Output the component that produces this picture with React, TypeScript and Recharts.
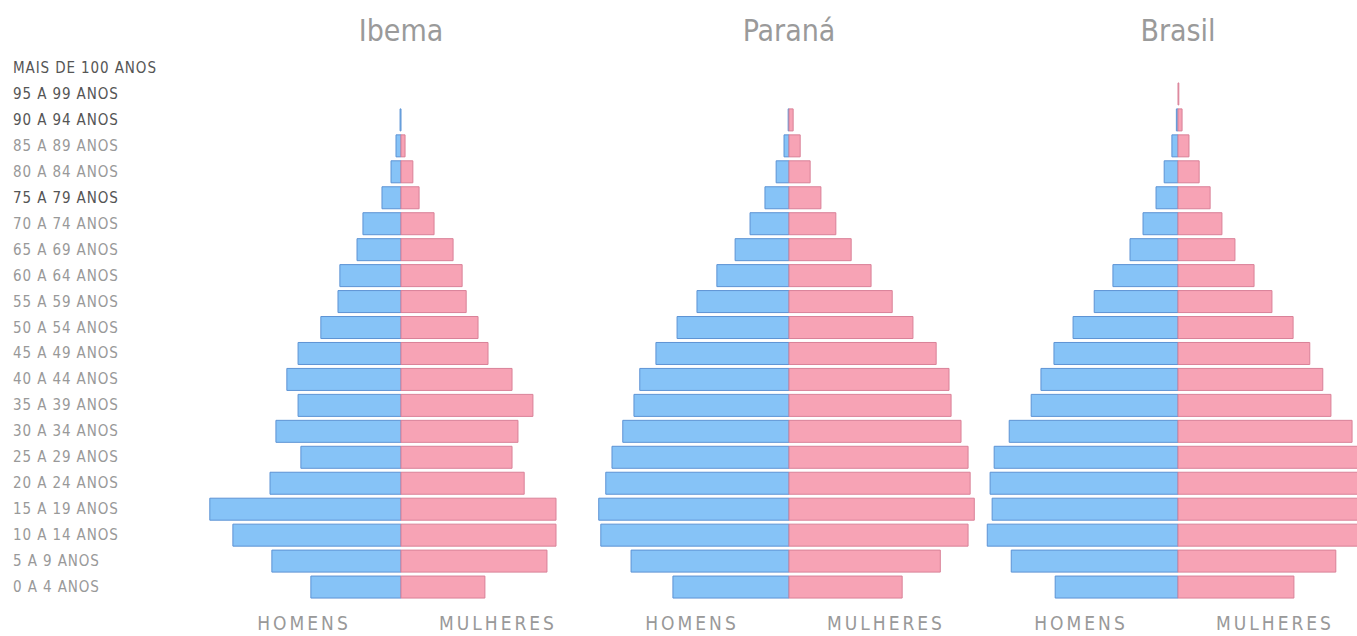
import React from 'react';
import { BarChart, Bar, XAxis, YAxis } from 'recharts';

const ageGroups = [
  'MAIS DE 100 ANOS', '95 A 99 ANOS', '90 A 94 ANOS', '85 A 89 ANOS', '80 A 84 ANOS',
  '75 A 79 ANOS', '70 A 74 ANOS', '65 A 69 ANOS', '60 A 64 ANOS', '55 A 59 ANOS',
  '50 A 54 ANOS', '45 A 49 ANOS', '40 A 44 ANOS', '35 A 39 ANOS', '30 A 34 ANOS',
  '25 A 29 ANOS', '20 A 24 ANOS', '15 A 19 ANOS', '10 A 14 ANOS', '5 A 9 ANOS', '0 A 4 ANOS',
];

// % of population
const ibemaHomens = [0, 0, 0.03, 0.16, 0.32, 0.61, 1.22, 1.41, 1.96, 2.02, 2.57, 3.30, 3.66, 3.30, 4.01, 3.21, 4.20, 6.13, 5.39, 4.14, 2.89];
const ibemaMulheres = [0, 0, 0, 0.13, 0.38, 0.58, 1.06, 1.67, 1.96, 2.09, 2.47, 2.79, 3.56, 4.23, 3.75, 3.56, 3.95, 4.97, 4.97, 4.68, 2.69];

const paranaHomens = [0, 0, 0.02, 0.12, 0.31, 0.58, 0.94, 1.30, 1.74, 2.22, 2.70, 3.21, 3.60, 3.74, 4.01, 4.27, 4.42, 4.59, 4.54, 3.81, 2.80];
const paranaMulheres = [0, 0, 0.10, 0.27, 0.51, 0.77, 1.13, 1.50, 1.98, 2.49, 2.99, 3.55, 3.86, 3.91, 4.15, 4.32, 4.37, 4.47, 4.32, 3.65, 2.73];

const brasilHomens = [0, 0, 0.04, 0.15, 0.34, 0.54, 0.86, 1.18, 1.60, 2.06, 2.58, 3.05, 3.37, 3.61, 4.15, 4.52, 4.62, 4.57, 4.69, 4.10, 3.02];
const brasilMulheres = [0, 0.02, 0.10, 0.27, 0.52, 0.79, 1.08, 1.40, 1.87, 2.31, 2.83, 3.24, 3.56, 3.76, 4.28, 4.47, 4.57, 4.52, 4.57, 3.88, 2.85];

const titles = ['Ibema', 'Paraná', 'Brasil'];
const sexLabels = ['HOMENS', 'MULHERES'];

const buildRows = (h: number[], m: number[]) =>
  ageGroups.map((age, i) => ({ age, homens: -h[i], mulheres: m[i] }));

const BLUE = '#86c3f7';
const BLUE_STROKE = '#5d93d4';
const PINK = '#f7a3b5';
const PINK_STROKE = '#d98198';

const LABEL_FONT = '"DejaVu Sans Condensed", "DejaVu Sans", sans-serif';

const AgeTick = (props: any) => {
  const { y, payload, index } = props;
  const dark = index <= 2 || index === 5;
  return (
    <text
      x={13}
      y={y}
      dy={5}
      textAnchor="start"
      fontFamily={LABEL_FONT}
      fontSize={15}
      letterSpacing={0.9}
      fill={dark ? '#555' : '#999'}
    >
      {payload.value}
    </text>
  );
};

const PLOT_TOP = 55;
const PLOT_BOTTOM = 36;
const HEIGHT = 636;

type PyramidProps = {
  rows: any[];
  half: number;
  center: number;
  title: string;
  showAxis?: boolean;
};

const Pyramid = ({ rows, half, center, title, showAxis }: PyramidProps) => {
  const plotW = 388;
  const axisW = showAxis ? center - plotW / 2 : 0;
  const left = showAxis ? 0 : center - plotW / 2;
  const width = axisW + plotW;
  return (
    <div style={{ position: 'absolute', left, top: 0, width, height: HEIGHT }}>
      <BarChart
        width={width}
        height={HEIGHT}
        data={rows}
        layout="vertical"
        stackOffset="sign"
        barSize={22}
        margin={{ top: PLOT_TOP, right: 0, bottom: PLOT_BOTTOM, left: 0 }}
      >
        <XAxis type="number" domain={[-half, half]} hide allowDataOverflow />
        <YAxis
          type="category"
          dataKey="age"
          hide={!showAxis}
          width={axisW}
          axisLine={false}
          tickLine={false}
          interval={0}
          tick={<AgeTick />}
        />
        <Bar dataKey="homens" stackId="s" fill={BLUE} stroke={BLUE_STROKE} strokeWidth={1} isAnimationActive={false} />
        <Bar dataKey="mulheres" stackId="s" fill={PINK} stroke={PINK_STROKE} strokeWidth={1} isAnimationActive={false} />
      </BarChart>
      <div
        style={{
          position: 'absolute',
          left: axisW,
          width: plotW,
          top: 14,
          textAlign: 'center',
          fontFamily: LABEL_FONT,
          fontSize: 30,
          letterSpacing: 0,
          color: '#9a9a9a',
          lineHeight: '34px',
        }}
      >
        {title}
      </div>
      {sexLabels.map((s, i) => (
        <div
          key={s}
          style={{
            position: 'absolute',
            left: axisW + plotW / 2 + (i === 0 ? -97 : 97) - 80,
            width: 160,
            top: 612,
            textAlign: 'center',
            fontFamily: LABEL_FONT,
            fontSize: 19,
            letterSpacing: 3,
            color: '#999',
            lineHeight: '22px',
          }}
        >
          {s}
        </div>
      ))}
    </div>
  );
};

export default function App() {
  return (
    <div
      style={{
        position: 'absolute',
        left: 0,
        top: 0,
        width: 1357,
        height: 636,
        overflow: 'hidden',
        background: '#fff',
      }}
    >
      <Pyramid rows={buildRows(ibemaHomens, ibemaMulheres)} half={6.22} center={401} title={titles[0]} showAxis />
      <Pyramid rows={buildRows(paranaHomens, paranaMulheres)} half={4.68} center={789} title={titles[1]} />
      <Pyramid rows={buildRows(brasilHomens, brasilMulheres)} half={4.77} center={1178} title={titles[2]} />
    </div>
  );
}
